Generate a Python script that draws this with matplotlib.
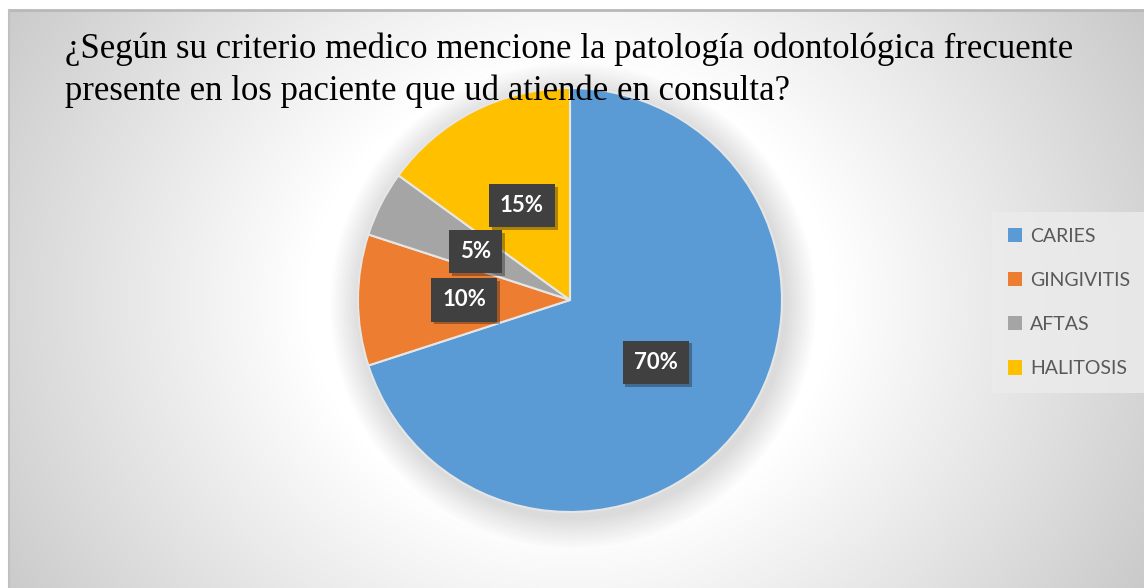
import numpy as np
import matplotlib.pyplot as plt
import matplotlib.patheffects as pe
from matplotlib.patches import Circle

# datos del grafico
categorias = ['CARIES', 'GINGIVITIS', 'AFTAS', 'HALITOSIS']
porcentajes = [70, 10, 5, 15]
colores = ['#5B9BD5', '#ED7D31', '#A5A5A5', '#FFC000']
titulo = (u'¿Según su criterio medico mencione la patología odontológica frecuente\n'
          u'presente en los paciente que ud atiende en consulta?')

W, H = 1144, 588
fig = plt.figure(figsize=(W / 100, H / 100), dpi=100)
fig.patch.set_facecolor('white')

# fondo con degradado radial
bg = fig.add_axes([9 / W, 0, (W - 9) / W, (H - 10) / H])
xx, yy = np.meshgrid(np.arange(9, W), np.arange(10, H))
r = np.sqrt(((xx - 570) / 1.15) ** 2 + (yy - 300) ** 2)
g = np.clip((r - 230) / 380, 0, 1)
val = 1.0 - 0.23 * g
img = np.dstack([val, val, val])
bg.imshow(img, extent=[9, W, H, 10], aspect='auto')
bg.set_xlim(9, W)
bg.set_ylim(H, 10)
bg.axis('off')
# bordes
fig.add_artist(plt.Line2D([9 / W, 1], [(H - 10) / H] * 2, color='#b8b8b8', lw=2))
fig.add_artist(plt.Line2D([9 / W] * 2, [0, (H - 10) / H], color='#c0c0c0', lw=1.5))

# pastel
R = 212
cx, cy = 570, 300
ax = fig.add_axes([(cx - R) / W, (H - cy - R) / H, 2 * R / W, 2 * R / H])
ax.axis('off')

# sombra suave del pastel
for i in range(12):
    c = Circle((0.015, -0.025), 1.0 + 0.012 * (12 - i), color='#808080',
               alpha=0.025, lw=0, zorder=0)
    c.set_clip_on(False)
    ax.add_patch(c)

wedges, texts, autotexts = ax.pie(
    porcentajes, colors=colores, startangle=90, counterclock=False,
    radius=1.0, autopct='%1.0f%%', pctdistance=0.5,
    wedgeprops=dict(edgecolor='#e6e6e6', linewidth=1.5),
    textprops=dict(color='white', fontsize=16, fontweight='bold', family='Lato'))
ax.set_xlim(-1, 1)
ax.set_ylim(-1, 1)

for t in autotexts:
    t.set_bbox(dict(boxstyle='square,pad=0.5', facecolor='#404040', edgecolor='none',
                    path_effects=[pe.SimplePatchShadow(offset=(2, -2), alpha=0.35),
                                  pe.Normal()]))
    t.set_zorder(5)

# titulo
fig.text(65 / W, 1 - 33 / H, titulo, ha='left', va='top', fontsize=25,
         family='Liberation Serif', color='black', linespacing=1.3, zorder=10)

# leyenda
leg = fig.legend(wedges, categorias, loc='upper left',
                 bbox_to_anchor=(992 / W, 1 - 212 / H),
                 frameon=True, facecolor='#ececec', edgecolor='none', framealpha=0.8,
                 fancybox=False, labelspacing=1.4, handlelength=0.75, handleheight=0.75,
                 handletextpad=0.4, borderpad=0.8, borderaxespad=0,
                 prop=dict(family='Lato', size=14))
for h in leg.legend_handles:
    h.set_edgecolor('none')
    h.set_linewidth(0)
for t in leg.get_texts():
    t.set_color('#595959')

fig.savefig('out.png', dpi=100)
